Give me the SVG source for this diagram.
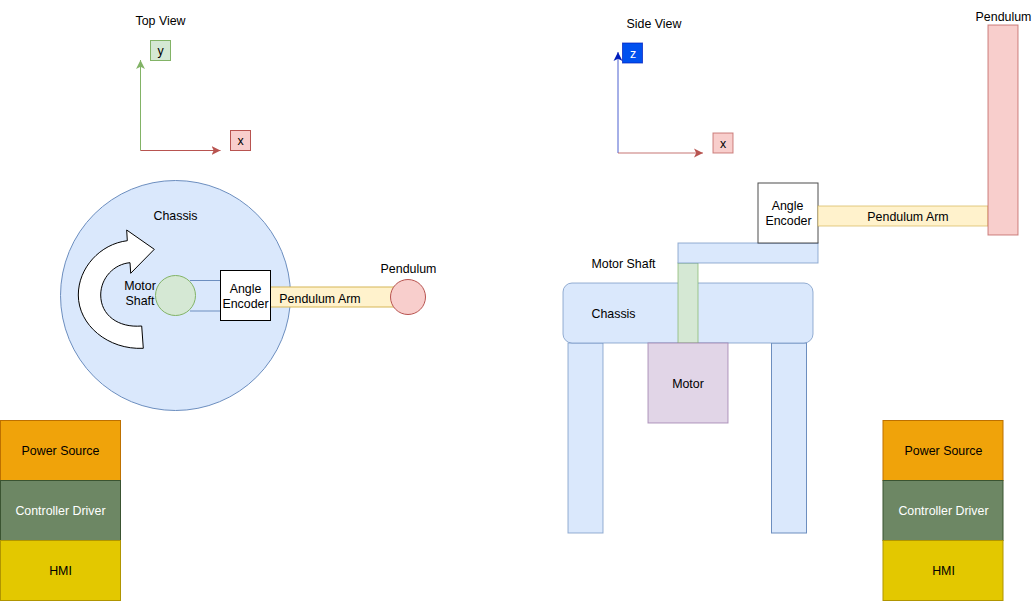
<svg xmlns="http://www.w3.org/2000/svg" width="1034" height="601" viewBox="0 0 1034 601">
<style>
text{font-family:"Liberation Sans",Arial,sans-serif;font-size:12.400px;fill:#000;text-anchor:middle}
text.w{fill:#fff}
.blue{fill:#dae8fc;stroke:#6c8ebf}
.green{fill:#d5e8d4;stroke:#82b366}
.red{fill:#f8cecc;stroke:#b85450}
.yellow{fill:#fff2cc;stroke:#d6b656}
.purple{fill:#e1d5e7;stroke:#9673a6}
.white{fill:#fff;stroke:#000}
.orange{fill:#f0a30a;stroke:#bd7000}
.olive{fill:#6d8764;stroke:#3a5431}
.gold{fill:#e3c800;stroke:#b09500}
.soft{stroke-opacity:.7}
.ax{fill:none;stroke-width:1}
</style>
<defs>
<marker id="mg" markerUnits="userSpaceOnUse" markerWidth="11" markerHeight="11" refX="9" refY="5.500" orient="auto"><path d="M0 1 L9 5.500 L0 10 L2.200 5.500Z" fill="#82b366"/></marker>
<marker id="mr" markerUnits="userSpaceOnUse" markerWidth="11" markerHeight="11" refX="9" refY="5.500" orient="auto"><path d="M0 1 L9 5.500 L0 10 L2.200 5.500Z" fill="#b85450"/></marker>
<marker id="mb" markerUnits="userSpaceOnUse" markerWidth="11" markerHeight="11" refX="9" refY="5.500" orient="auto"><path d="M0 1 L9 5.500 L0 10 L2.200 5.500Z" fill="#001dbc"/></marker>
</defs>

<g id="connectors">
<path class="ax" d="M140.500 150.500V60" style="stroke:#82b366" marker-end="url(#mg)"/>
<path class="ax" d="M140.500 150.500H220.500" style="stroke:#b85450" marker-end="url(#mr)"/>
<path class="ax" d="M618 153V52" style="stroke:#001dbc;stroke-opacity:.7" marker-end="url(#mb)"/>
<path class="ax" d="M618 153H703" style="stroke:#b85450;stroke-opacity:.8" marker-end="url(#mr)"/>
</g>

<g id="top-title"><text x="160.500" y="25">Top View</text></g>
<g id="top-y"><rect class="green" x="150.500" y="40.500" width="20" height="20"/><text x="160.500" y="55">y</text></g>
<g id="top-x"><rect class="red" x="230.500" y="130.500" width="20" height="20"/><text x="240.500" y="145">x</text></g>

<g id="top-chassis"><circle class="blue" cx="175.500" cy="295.500" r="115"/><text x="175.500" y="220">Chassis</text></g>
<g id="top-arm"><rect class="yellow" x="270.500" y="287" width="125" height="20"/><text x="320" y="303">Pendulum Arm</text></g>
<g id="top-rotation"><path d="M143.300 348.300C108 350 78.300 325 78.300 295C78.300 268 100 244 127.300 240.700L126.700 230L154.300 249.300L130.700 273.300L130 262.700C114 264 100.700 278 100.700 295C100.700 315 118 328 141.700 326Z" fill="#fff" stroke="#000"/></g>
<g id="top-bracket"><path d="M190 280.500H220.500M190 311H220.500" fill="none" stroke="#6c8ebf"/></g>
<g id="top-shaft"><circle class="green" cx="175.500" cy="295.500" r="20"/><text x="140" y="290">Motor</text><text x="140" y="305">Shaft</text></g>
<g id="top-encoder"><rect class="white" x="220.500" y="270.500" width="50" height="50"/><text x="245.500" y="293">Angle</text><text x="245.500" y="307.500">Encoder</text></g>
<g id="top-pendulum"><circle class="red" cx="408" cy="297" r="17.500"/><text x="408.500" y="273">Pendulum</text></g>

<g id="left-power"><rect class="orange" x="0.500" y="420.500" width="120" height="60"/><text x="60.500" y="455">Power Source</text></g>
<g id="left-driver"><rect class="olive" x="0.500" y="480.500" width="120" height="60"/><text class="w" x="60.500" y="515">Controller Driver</text></g>
<g id="left-hmi"><rect class="gold" x="0.500" y="540.500" width="120" height="60"/><text x="60.500" y="575">HMI</text></g>

<g id="side-title"><text x="654" y="28">Side View</text></g>
<g id="side-z"><rect x="622.500" y="43" width="20" height="20" fill="#0050ef" stroke="#001dbc" stroke-opacity=".7"/><text class="w" x="633" y="58">z</text></g>
<g id="side-x"><rect class="red soft" x="713" y="133" width="20" height="20"/><text x="723" y="148">x</text></g>

<g id="side-leg-left"><rect class="blue soft" x="568" y="343" width="35" height="190"/></g>
<g id="side-leg-right"><rect class="blue" x="771.500" y="343" width="35" height="190"/></g>
<g id="side-chassis"><rect class="blue soft" x="563" y="283" width="250" height="60" rx="9"/><text x="613.500" y="318">Chassis</text></g>
<g id="side-shaft"><rect class="green soft" x="678" y="263" width="20" height="80"/><text x="623.500" y="268">Motor Shaft</text></g>
<g id="side-motor"><rect class="purple soft" x="648" y="343" width="80" height="80"/><text x="688" y="388">Motor</text></g>
<g id="side-bracket"><rect class="blue soft" x="678" y="243" width="140" height="20"/></g>
<g id="side-encoder"><rect class="white" style="stroke-opacity:.7" x="758" y="183" width="60" height="60"/><text x="787.500" y="210">Angle</text><text x="788.500" y="224.500">Encoder</text></g>
<g id="side-arm"><rect class="yellow soft" x="818" y="206" width="170" height="20"/><text x="908" y="221">Pendulum Arm</text></g>
<g id="side-pendulum"><rect class="red soft" x="988" y="25" width="30" height="210"/><text x="1003.500" y="21">Pendulum</text></g>

<g id="right-power"><rect class="orange" x="883" y="420.500" width="120" height="60"/><text x="943.500" y="455">Power Source</text></g>
<g id="right-driver"><rect class="olive" x="883" y="480.500" width="120" height="60"/><text class="w" x="943.500" y="515">Controller Driver</text></g>
<g id="right-hmi"><rect class="gold" x="883" y="540.500" width="120" height="60"/><text x="943.500" y="575">HMI</text></g>
</svg>
